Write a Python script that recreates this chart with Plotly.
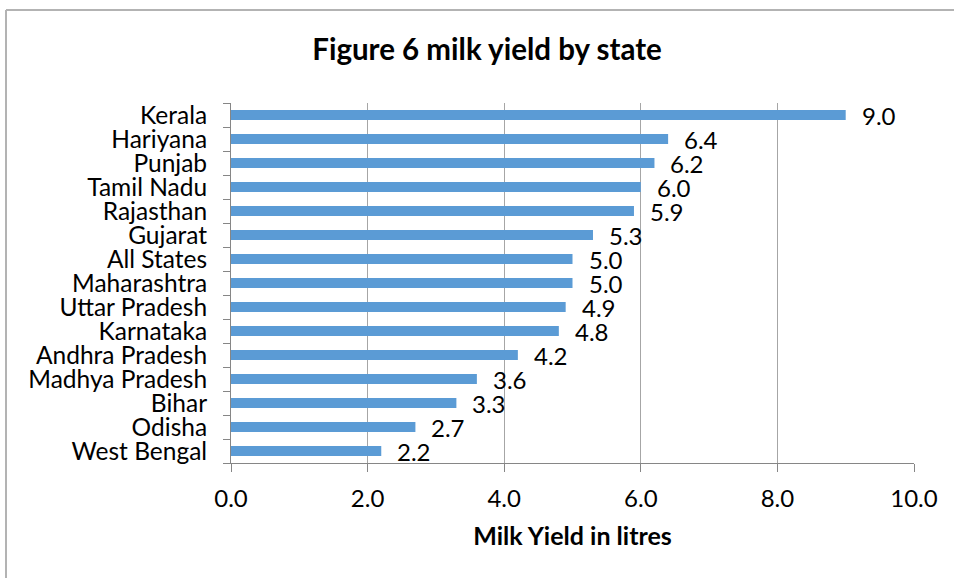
import plotly.graph_objects as go

states = ["Kerala", "Hariyana", "Punjab", "Tamil Nadu", "Rajasthan", "Gujarat",
          "All States", "Maharashtra", "Uttar Pradesh", "Karnataka",
          "Andhra Pradesh", "Madhya Pradesh", "Bihar", "Odisha", "West Bengal"]
milk_yield = [9.0, 6.4, 6.2, 6.0, 5.9, 5.3, 5.0, 5.0, 4.9, 4.8, 4.2, 3.6, 3.3, 2.7, 2.2]
x_ticks = [0, 2, 4, 6, 8, 10]
x_tick_labels = ["0.0", "2.0", "4.0", "6.0", "8.0", "10.0"]

FONT = "Lato"
W, H = 954, 578
L, R, T, B = 231, 40, 103, 115

fig = go.Figure()
fig.add_trace(go.Bar(
    x=milk_yield, y=states, orientation="h",
    marker=dict(color="#5B9BD5", line=dict(width=0)),
    hoverinfo="x+y",
))

for s, v in zip(states, milk_yield):
    fig.add_annotation(x=v, y=s, text=f"{v:.1f}", showarrow=False,
                       xanchor="left", yanchor="middle", xshift=14, yshift=0,
                       font=dict(family=FONT, size=24, color="#000000"))

pw = W - L - R
ph = H - T - B
def px_x(x):
    return (x - L) / pw
def px_y(y):
    return (H - B - y) / ph

shapes = [
    dict(type="line", xref="paper", yref="paper", x0=px_x(6), x1=px_x(6), y0=px_y(10), y1=px_y(578),
         line=dict(color="#b3b3b3", width=2)),
    dict(type="line", xref="paper", yref="paper", x0=px_x(6), x1=px_x(954), y0=px_y(10), y1=px_y(10),
         line=dict(color="#b3b3b3", width=2)),
]

fig.update_layout(
    width=W, height=H,
    margin=dict(l=L, r=R, t=T, b=B, pad=0),
    paper_bgcolor="white", plot_bgcolor="white",
    bargap=0.58,
    showlegend=False,
    title=dict(text="<b>Figure 6 milk yield by state</b>", x=487 / W, xref="container", xanchor="center",
               y=1 - 50 / H, yref="container", yanchor="middle",
               font=dict(family=FONT, size=29.5, color="#000000")),
    shapes=shapes,
    xaxis=dict(range=[0, 10], tickvals=x_ticks, ticktext=x_tick_labels,
               showgrid=True, gridcolor="#a6a6a6", gridwidth=1,
               showline=True, linecolor="#868686", linewidth=1,
               ticks="outside", ticklen=8, tickcolor="#868686",
               ticklabelstandoff=6,
               tickfont=dict(family=FONT, size=24, color="#000000"),
               zeroline=False,
               title=dict(text="<b>Milk Yield in litres</b>", standoff=16,
                          font=dict(family=FONT, size=25, color="#000000"))),
    yaxis=dict(range=[len(states) - 0.5, -0.5], showgrid=False,
               tickmode="array", tickvals=states, ticktext=states,
               showline=True, linecolor="#868686", linewidth=1,
               ticks="outside", ticklen=7, tickcolor="#868686", tickson="boundaries",
               ticklabelstandoff=18,
               tickfont=dict(family=FONT, size=24.5, color="#000000")),
)

fig.write_html("out.html")
